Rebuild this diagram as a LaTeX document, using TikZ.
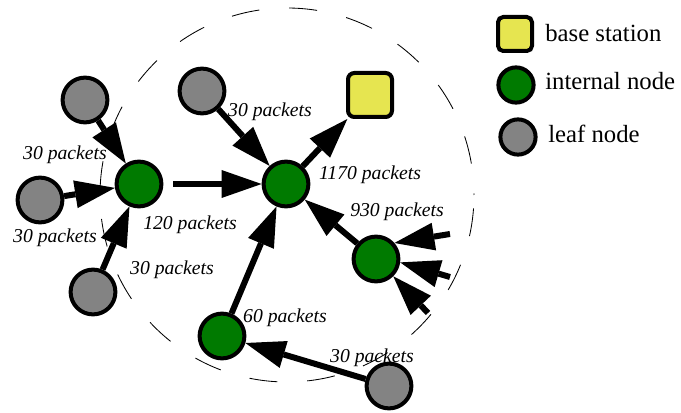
\documentclass[tikz,border=0pt]{standalone}
\usepackage{fontspec}
\setmainfont{Liberation Serif}
\usetikzlibrary{arrows.meta}

\begin{document}
\begin{tikzpicture}[
    every node/.style={inner sep=0pt},
    leaf/.style={circle, draw, line width=0.1cm, fill=leafgrey, minimum size=1.12cm},
    internal/.style={circle, draw, line width=0.1cm, fill=nodegreen, minimum size=1.12cm},
    sink/.style={rectangle, rounded corners=0.16cm, draw, line width=0.1cm,
        fill=sinkyellow, minimum size=1.1cm},
    flow/.style={line width=0.15cm,
        -{Triangle[length=1.0cm, width=0.7cm, line width=0pt]}},
    count/.style={font=\fontsize{14}{17}\selectfont\itshape, anchor=base},
    keytext/.style={font=\fontsize{17.6}{20}\selectfont, anchor=base west},
]

\definecolor{leafgrey}{HTML}{838383}
\definecolor{nodegreen}{HTML}{007A00}
\definecolor{sinkyellow}{HTML}{E6E550}

\useasboundingbox (0,0) rectangle (17.025,10.3);

% ---------------------------------------------------------------- radio range
\draw[line width=0.6pt, dash pattern=on 0.7cm off 0.75cm, dash phase=0.66cm]
    (7.175,5.425) circle (4.675);

% ---------------------------------------------------------------- nodes
\node[sink]     (bs) at (9.25,7.925)  {};
\node[internal] (a)  at (3.475,5.7)   {};
\node[internal] (b)  at (7.15,5.7)    {};
\node[internal] (c)  at (9.4,3.825)   {};
\node[internal] (d)  at (5.55,1.9)    {};

\node[leaf] (l1) at (2.125,7.8)  {};
\node[leaf] (l2) at (1.0,5.3)    {};
\node[leaf] (l3) at (2.325,3.0)  {};
\node[leaf] (l4) at (5.05,8.025) {};
\node[leaf] (l5) at (9.725,0.65) {};

% traffic from outside the range, into c
\coordinate (in1) at (11.25,4.45);
\coordinate (in2) at (11.25,3.375);
\coordinate (in3) at (10.7,2.475);

% ---------------------------------------------------------------- flows
\foreach \src in {l1,l2,l3}
    \draw[flow] (\src) -- (a);
\draw[flow, shorten <=0.25cm] (a) -- (b);
\foreach \src in {l4,c,d}
    \draw[flow] (\src) -- (b);
\draw[flow] (b) -- (bs);
\draw[flow] (l5) -- (d);
\foreach \src/\ang in {in1/41, in2/-8, in3/-45}
    \draw[flow] (\src) -- (c.\ang);

% ---------------------------------------------------------------- counts
\node[count] (n1) at (1.625,6.3)   {30 packets};
\node[count] (n2) at (1.375,4.225) {30 packets};
\node[count] (n3) at (4.3,3.425)   {30 packets};
\node[count] (na) at (4.75,4.55)   {120 packets};
\node[count] (n4) at (6.75,7.375)  {30 packets};
\node[count] (nb) at (9.25,5.8)    {1170 packets};
\node[count] (nc) at (9.925,4.875) {930 packets};
\node[count] (nd) at (7.125,2.225) {60 packets};
\node[count] (n5) at (9.3,1.25)    {30 packets};

% ---------------------------------------------------------------- legend
\node[sink, minimum size=0.85cm, rounded corners=0.13cm] (keybs) at (12.875,9.45) {};
\node[internal, minimum size=0.88cm] (keyint) at (12.9,8.175) {};
\node[leaf, minimum size=0.88cm] (keyleaf) at (12.95,6.875) {};

\node[keytext] (kbs)   at (13.625,9.25)  {base station};
\node[keytext] (kint)  at (13.625,8.05)  {internal node};
\node[keytext] (kleaf) at (13.7,6.725)   {leaf node};

\end{tikzpicture}
\end{document}
